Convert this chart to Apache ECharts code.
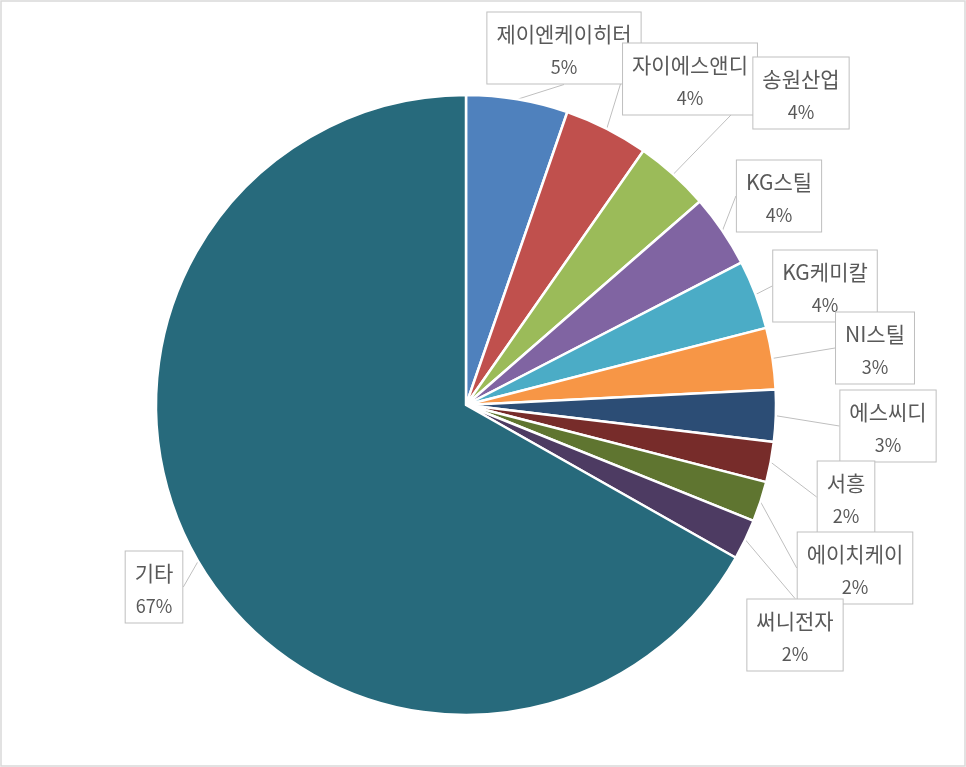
<!DOCTYPE html>
<html lang="ko">
<head>
    <meta charset="UTF-8">
    <title>Pie</title>
    <script src="https://cdn.jsdelivr.net/npm/echarts@6/dist/echarts.min.js"></script>
    <style>
        html, body { margin: 0; padding: 0; background: #fff; }
        #echart { width: 966px; height: 767px; }
    </style>
</head>
<body>
<div id="echart"></div>
<script>
    // 회사명 / 비중(%)
    var names = ['제이엔케이히터', '자이에스앤디', '송원산업', 'KG스틸', 'KG케미칼', 'NI스틸',
        '에스씨디', '서흥', '에이치케이', '써니전자', '기타']
    var shares = [5.3, 4.4, 3.9, 3.8, 3.6, 3.2, 2.7, 2.1, 2.1, 2.1, 66.8]
    var colors = ['#4F81BD', '#C0504D', '#9BBB59', '#8064A2', '#4BACC6', '#F79646',
        '#2C4D75', '#772C2A', '#5F7530', '#4D3B62', '#276A7C']

    // callout box centres (Excel placed them by hand)
    var boxPos = [[564, 48], [690, 79], [801, 93], [779, 196], [825, 286], [875, 348],
        [888, 426], [846, 497], [855, 568], [795, 635], [154, 587]]

    var total = 0
    for (var i = 0; i < shares.length; i++) total += shares[i]

    var pieData = []
    for (var i = 0; i < names.length; i++) {
        pieData.push({ name: names[i], value: shares[i], itemStyle: { color: colors[i] } })
    }

    var myChart = echarts.init(document.getElementById('echart'))
    myChart.setOption({
        animation: false,
        graphic: [{
            type: 'rect',
            shape: { x: 1, y: 1, width: 964, height: 765 },
            style: { fill: 'none', stroke: '#d9d9d9', lineWidth: 1.5 },
            z: -10
        }],
        series: [{
            type: 'pie',
            center: [466, 405],
            radius: 310,
            startAngle: 90,
            clockwise: true,
            data: pieData,
            itemStyle: { borderColor: '#fff', borderWidth: 2.5 },
            label: {
                show: true,
                position: 'outside',
                formatter: function (p) {
                    return '{n|' + p.name + '}\n{p|' + Math.round(p.value / total * 100) + '%}'
                },
                backgroundColor: '#fff',
                borderColor: '#bfbfbf',
                borderWidth: 1,
                padding: [5, 9, 0, 9],
                rich: {
                    n: { fontFamily: 'Noto Sans CJK KR', fontSize: 21, color: '#595959', lineHeight: 33, align: 'center' },
                    p: { fontFamily: 'Noto Sans CJK KR', fontSize: 18, color: '#595959', lineHeight: 33, align: 'center' }
                }
            },
            labelLine: {
                show: true,
                length: 10,
                length2: 0,
                lineStyle: { color: '#bfbfbf', width: 1 }
            },
            labelLayout: function (params) {
                var pos = boxPos[params.dataIndex]
                return { x: pos[0], y: pos[1], align: 'center', verticalAlign: 'middle' }
            }
        }]
    })
</script>
</body>
</html>
